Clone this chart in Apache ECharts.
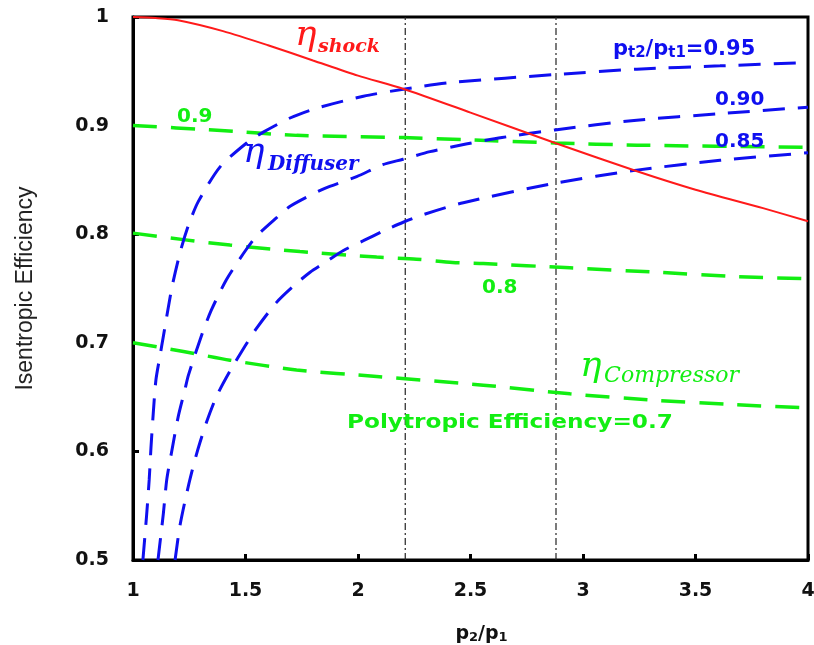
<!DOCTYPE html>
<html>
<head>
<meta charset="utf-8">
<script src="https://cdn.jsdelivr.net/npm/echarts@6/dist/echarts.min.js"></script>
<style>
html,body{margin:0;padding:0;background:#ffffff;}
#chart{width:814px;height:645px;}
</style>
</head>
<body>
<div id="chart"></div>
<script>
// ---- data ([p2/p1, efficiency]) ----
const shockEff = [[1,1.0],[1.1,0.999],[1.2,0.997],[1.4,0.987],[1.6,0.974],[1.8,0.960],[2.0,0.946],[2.2,0.934],[2.5,0.912],[2.876,0.884],[3.24,0.858],[3.5,0.841],[3.8,0.824],[4.0,0.812]];

const diffuser095 = [[1.044,0.5],[1.060,0.540],[1.072,0.574],[1.080,0.604],[1.090,0.635],[1.102,0.666],[1.120,0.688],[1.135,0.706],[1.172,0.750],[1.209,0.783],[1.246,0.808],[1.29,0.830],[1.387,0.862],[1.505,0.884],[1.579,0.894],[1.698,0.907],[1.816,0.916],[2.024,0.927],[2.216,0.934],[2.431,0.940],[2.876,0.947],[3.239,0.952],[3.609,0.955],[4.0,0.958]];

const diffuser090 = [[1.111,0.5],[1.135,0.543],[1.150,0.574],[1.172,0.600],[1.201,0.632],[1.231,0.657],[1.246,0.670],[1.305,0.707],[1.348,0.730],[1.415,0.758],[1.490,0.782],[1.548,0.798],[1.637,0.815],[1.70,0.826],[1.85,0.842],[1.994,0.853],[2.11,0.864],[2.2,0.869],[2.32,0.876],[2.48,0.883],[2.64,0.889],[2.876,0.896],[3.239,0.905],[3.609,0.911],[4.0,0.917]];

const diffuser085 = [[1.187,0.5],[1.209,0.532],[1.246,0.568],[1.283,0.598],[1.327,0.627],[1.372,0.651],[1.431,0.674],[1.498,0.697],[1.548,0.713],[1.637,0.737],[1.712,0.752],[1.787,0.765],[1.861,0.775],[1.935,0.785],[2.024,0.794],[2.113,0.803],[2.201,0.811],[2.29,0.818],[2.468,0.829],[2.876,0.847],[3.239,0.859],[3.609,0.868],[4.0,0.875]];

const polytropic09 = [[1,0.900],[1.356,0.896],[1.727,0.891],[2.2,0.889],[2.48,0.887],[2.876,0.884],[3.24,0.882],[4.0,0.880]];
const polytropic08 = [[1,0.801],[1.224,0.795],[1.431,0.790],[1.742,0.784],[2.083,0.779],[2.26,0.777],[2.42,0.774],[2.557,0.773],[2.942,0.769],[3.327,0.765],[3.68,0.761],[4.0,0.759]];
const polytropic07 = [[1,0.700],[1.224,0.692],[1.431,0.684],[1.727,0.675],[2.083,0.669],[2.557,0.661],[2.942,0.653],[3.327,0.647],[3.68,0.643],[4.0,0.640]];

const markerLinesX = [2.21, 2.88];
const yRange = [0.5, 1.0];

// ---- styling ----
const RED = '#ff1a1a', BLUE = '#0f0ff0', GREEN = '#12ee12';
const SANS = '"DejaVu Sans", sans-serif';
const SERIF = '"DejaVu Serif", serif';

const chart = echarts.init(document.getElementById('chart'), null, {renderer: 'canvas'});

function curve(name, data, color, width, dash, z) {
  return {
    name: name, type: 'line', data: data, showSymbol: false, symbol: 'none',
    smooth: 0.25, silent: true, z: z || 2,
    lineStyle: {color: color, width: width, type: dash}
  };
}

const series = [
  curve('poly0.9', polytropic09, GREEN, 3.5, [24, 14], 2),
  curve('poly0.8', polytropic08, GREEN, 3.5, [24, 14], 2),
  curve('poly0.7', polytropic07, GREEN, 3.5, [24, 14], 2),
  curve('diff0.95', diffuser095, BLUE, 3, [22, 13], 3),
  curve('diff0.90', diffuser090, BLUE, 3, [22, 13], 3),
  curve('diff0.85', diffuser085, BLUE, 3, [22, 13], 3),
  curve('shock', shockEff, RED, 2, 'solid', 4)
];
markerLinesX.forEach(function (x, i) {
  series.push({
    name: 'ref' + i, type: 'line', data: [[x, yRange[0]], [x, yRange[1]]],
    showSymbol: false, symbol: 'none', silent: true, z: 1,
    lineStyle: {color: '#222', width: 1.2, type: [7, 3, 2, 3]}
  });
});

chart.setOption({
  animation: false,
  backgroundColor: '#ffffff',
  grid: {left: 133, right: 6, top: 17, bottom: 85, show: true, borderColor: '#000', borderWidth: 3,
    containLabel: false, outerBoundsMode: 'none'},
  xAxis: {
    type: 'value', min: 1, max: 4, interval: 0.5,
    axisLine: {show: true, lineStyle: {color: '#000', width: 3}},
    axisTick: {show: true, inside: true, length: 6, lineStyle: {color: '#000', width: 3}},
    splitLine: {show: false},
    axisLabel: {margin: 22, color: '#111', fontFamily: SANS, fontWeight: 'bold', fontSize: 19,
      formatter: function (v) { return String(v); }},
    name: '{m|p}{s|2}{m|/p}{s|1}', nameLocation: 'middle', nameGap: 62,
    nameTextStyle: {
      padding: [0, 0, 0, 22],
      rich: {
        m: {fontFamily: SANS, fontWeight: 'bold', fontSize: 19, color: '#111', lineHeight: 22, verticalAlign: 'bottom'},
        s: {fontFamily: SANS, fontWeight: 'bold', fontSize: 13, color: '#111', lineHeight: 10, verticalAlign: 'bottom'}
      }
    }
  },
  yAxis: {
    type: 'value', min: 0.5, max: 1, interval: 0.1,
    axisLine: {show: true, lineStyle: {color: '#000', width: 3}},
    axisTick: {show: true, inside: true, length: 6, lineStyle: {color: '#000', width: 3}},
    splitLine: {show: false},
    axisLabel: {margin: 24, color: '#111', fontFamily: SANS, fontWeight: 'bold', fontSize: 19,
      formatter: function (v) { return v === 1 ? '1' : v.toFixed(1); }},
    name: 'Isentropic Efficiency', nameLocation: 'middle', nameRotate: 90, nameGap: 96,
    nameTextStyle: {fontFamily: '"Liberation Sans", Arial, sans-serif', fontSize: 23, color: '#222'}
  },
  series: series
});

// ---- annotations, anchored in data coordinates ----
const annotations = [
  {at: [1.72, 0.983], eta: true, color: RED, sub: 'shock', subFont: 'italic bold 19px ' + SERIF, dx: 23, dy: 12},
  {at: [1.489, 0.875], eta: true, color: BLUE, sub: 'Diffuser', subFont: 'italic bold 20px ' + SERIF, dx: 25, dy: 12},
  {at: [2.987, 0.6777], eta: true, color: GREEN, sub: 'Compressor', subFont: 'italic 22px ' + SERIF, dx: 24, dy: 9},
  {at: [1.196, 0.9084], text: '0.9', color: GREEN},
  {at: [2.551, 0.7505], text: '0.8', color: GREEN},
  {at: [1.951, 0.6266], text: 'Polytropic Efficiency=0.7', color: GREEN, scaleX: 1.16},
  {at: [3.133, 0.9703], rich: '{m|p}{s|t2}{m|/p}{s|t1}{m|=0.95}', color: BLUE},
  {at: [3.587, 0.9236], text: '0.90', color: BLUE},
  {at: [3.587, 0.8854], text: '0.85', color: BLUE}
];

const graphics = [];
annotations.forEach(function (a) {
  const p = chart.convertToPixel({gridIndex: 0}, a.at);
  if (a.eta) {
    graphics.push({type: 'text', x: p[0], y: p[1], z: 100, silent: true,
      style: {text: 'η', font: 'italic 36px ' + SERIF, fill: a.color, align: 'left', verticalAlign: 'middle'}});
    graphics.push({type: 'text', x: p[0] + a.dx, y: p[1] + a.dy, z: 100, silent: true,
      style: {text: a.sub, font: a.subFont, fill: a.color, align: 'left', verticalAlign: 'middle'}});
  } else if (a.rich) {
    graphics.push({type: 'text', x: p[0], y: p[1], z: 100, silent: true,
      style: {text: a.rich, align: 'left', verticalAlign: 'middle',
        rich: {
          m: {fontFamily: SANS, fontWeight: 'bold', fontSize: 21, fill: a.color, lineHeight: 22, verticalAlign: 'bottom'},
          s: {fontFamily: SANS, fontWeight: 'bold', fontSize: 15, fill: a.color, lineHeight: 10, verticalAlign: 'bottom'}
        }}});
  } else {
    graphics.push({type: 'text', x: p[0], y: p[1], z: 100, silent: true, scaleX: a.scaleX || 1,
      style: {text: a.text, font: 'bold 20px ' + SANS, fill: a.color, align: 'left', verticalAlign: 'middle'}});
  }
});
chart.setOption({graphic: graphics});
</script>
</body>
</html>
